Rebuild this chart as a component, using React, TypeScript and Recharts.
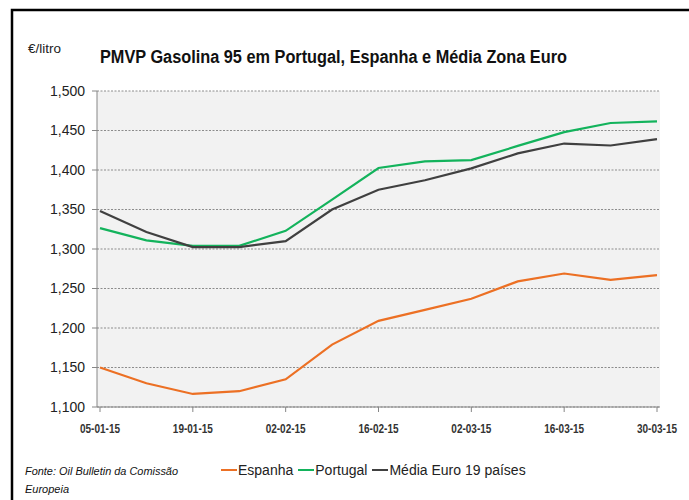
import React from 'react';
import { LineChart, Line, XAxis, YAxis, CartesianGrid, Legend } from 'recharts';

const dates = ['05-01-15','12-01-15','19-01-15','26-01-15','02-02-15','09-02-15','16-02-15','23-02-15','02-03-15','09-03-15','16-03-15','23-03-15','30-03-15'];
const espanha = [1.150,1.130,1.1165,1.120,1.135,1.179,1.209,1.223,1.237,1.259,1.269,1.261,1.267];
const portugal = [1.3265,1.311,1.304,1.304,1.323,1.3625,1.4025,1.411,1.4125,1.4305,1.448,1.4595,1.4615];
const media = [1.348,1.3215,1.3025,1.3025,1.31,1.350,1.375,1.387,1.402,1.421,1.4335,1.431,1.439];
const yTicks = [1.1,1.15,1.2,1.25,1.3,1.35,1.4,1.45,1.5];
const seriesNames = ['Espanha', 'Portugal', 'Média Euro 19 países'];

const data = dates.map((d, i) => ({ d, esp: espanha[i], pt: portugal[i], med: media[i] }));

const FONT = "'Liberation Sans', Arial, sans-serif";

const XTick = (props: any) => {
  const { x, y, payload } = props;
  return (
    <text x={x} y={y} dy={13} textAnchor="middle" fontFamily={FONT} fontSize={12} fontWeight="bold" fill="#333" textLength={40} lengthAdjust="spacingAndGlyphs">
      {payload.value}
    </text>
  );
};

const renderLegend = (props: any) => {
  const items = [...(props.payload || [])].sort((a: any, b: any) => seriesNames.indexOf(a.value) - seriesNames.indexOf(b.value));
  return (
    <div style={{ display: 'flex', alignItems: 'center', fontFamily: FONT, fontSize: 14, color: '#222', whiteSpace: 'nowrap' }}>
      {items.map((p: any) => (
        <span key={p.value} style={{ display: 'flex', alignItems: 'center', marginRight: 5 }}>
          <svg width={16} height={4} style={{ marginRight: 1 }}>
            <line x1={0} y1={2} x2={16} y2={2} stroke={p.color} strokeWidth={2} />
          </svg>
          <span>{p.value}</span>
        </span>
      ))}
    </div>
  );
};

export default function App() {
  return (
    <div style={{ position: 'absolute', left: 0, top: 0, width: 689, height: 500, overflow: 'hidden', background: '#fff' }}>
      <LineChart width={689} height={500} data={data} margin={{ top: 91, right: 29, left: 37, bottom: 63 }}>
        <CartesianGrid vertical={false} horizontal={true} fill="#F2F2F2" stroke="#8c8c8c" strokeDasharray="2 1.5" />
        <XAxis dataKey="d" interval={1} padding={{ left: 3, right: 3 }} height={30} tickSize={5} tickMargin={8}
          axisLine={{ stroke: '#868686' }} tickLine={{ stroke: '#868686' }} tick={<XTick />} />
        <XAxis xAxisId="t" dataKey="d" orientation="top" height={0} tick={false} tickLine={false} axisLine={{ stroke: '#8EB4E3' }} />
        <YAxis domain={[1.1, 1.5]} ticks={yTicks} width={60} tickSize={5} tickMargin={7} interval={0}
          axisLine={{ stroke: '#868686' }} tickLine={{ stroke: '#868686' }}
          tick={{ fontFamily: FONT, fontSize: 14, fill: '#222' }}
          tickFormatter={(v: number) => v.toFixed(3).replace('.', ',')} />
        <YAxis yAxisId="r" orientation="right" width={0} tick={false} tickLine={false} axisLine={{ stroke: '#8EB4E3' }} domain={[1.1, 1.5]} />
        <Legend layout="horizontal" verticalAlign="middle" align="center" content={renderLegend}
          wrapperStyle={{ position: 'absolute', left: 221, top: 462, width: 'auto', height: 20 }} />
        <Line type="linear" dataKey="esp" name="Espanha" stroke="#EC7024" strokeWidth={2.2} dot={false} isAnimationActive={false} />
        <Line type="linear" dataKey="pt" name="Portugal" stroke="#13B35C" strokeWidth={2.2} dot={false} isAnimationActive={false} />
        <Line type="linear" dataKey="med" name="Média Euro 19 países" stroke="#404040" strokeWidth={2.2} dot={false} isAnimationActive={false} />
      </LineChart>
      <svg width={689} height={500} style={{ position: 'absolute', left: 0, top: 0, pointerEvents: 'none' }}>
        <rect x={12} y={10} width={900} height={800} fill="none" stroke="#000" strokeWidth={2.5} />
        <text x={28} y={53} fontFamily={FONT} fontSize={13.5} fill="#222">€/litro</text>
        <text x={100} y={63} fontFamily={FONT} fontSize={18} fontWeight="bold" fill="#111" textLength={467} lengthAdjust="spacingAndGlyphs">PMVP Gasolina 95 em Portugal, Espanha e Média Zona Euro</text>
        <text x={25} y={475} fontFamily={FONT} fontSize={11} fontStyle="italic" fill="#111" textLength={153} lengthAdjust="spacingAndGlyphs">Fonte: Oil Bulletin  da Comissão</text>
        <text x={25} y={493} fontFamily={FONT} fontSize={11} fontStyle="italic" fill="#111">Europeia</text>
      </svg>
    </div>
  );
}
